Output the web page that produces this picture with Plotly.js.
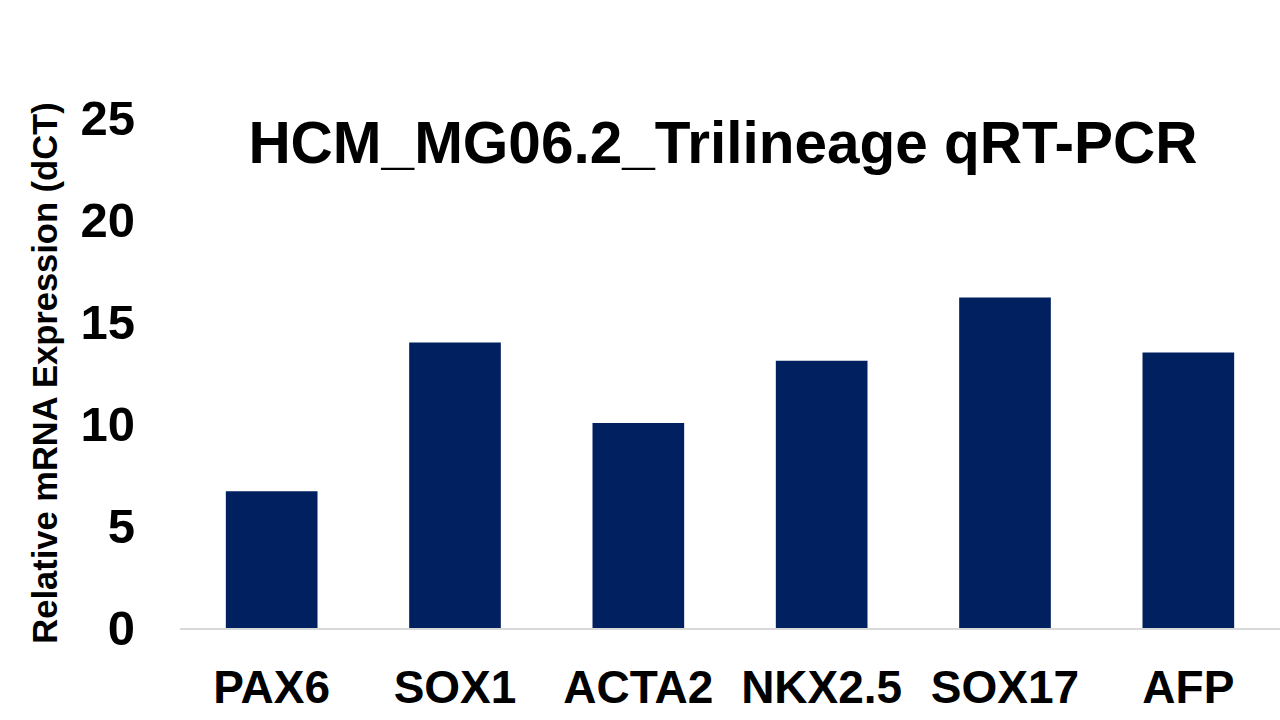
<!DOCTYPE html>
<html>
<head>
<meta charset="utf-8">
<script src="https://cdn.plot.ly/plotly-3.0.1.min.js"></script>
<style>html,body{margin:0;padding:0;background:#fff;}#chart{width:1280px;height:720px;}</style>
</head>
<body>
<div id="chart"></div>
<script>
const categories = ["PAX6", "SOX1", "ACTA2", "NKX2.5", "SOX17", "AFP"];
const expression = [6.7, 14.0, 10.05, 13.1, 16.2, 13.5];
const yTickValues = [0, 5, 10, 15, 20, 25];

const FONT = "Liberation Sans, Arial, sans-serif";

const trace = {
  type: "bar",
  x: categories,
  y: expression,
  marker: { color: "#002060" },
  hoverinfo: "x+y"
};

const layout = {
  width: 1280,
  height: 720,
  paper_bgcolor: "#ffffff",
  plot_bgcolor: "#ffffff",
  margin: { l: 180, r: 0, t: 118, b: 92 },
  bargap: 0.5,
  showlegend: false,
  font: { family: FONT, color: "#000000" },
  title: {
    text: "<b>HCM_MG06.2_Trilineage qRT-PCR</b>",
    font: { family: FONT, size: 58.5, color: "#000000" },
    x: 723 / 1280,
    xref: "container",
    xanchor: "center",
    y: 1 - 143 / 720,
    yref: "container",
    yanchor: "middle"
  },
  xaxis: {
    type: "category",
    showline: true,
    linecolor: "#d9d9d9",
    linewidth: 1.5,
    showgrid: false,
    zeroline: false,
    ticks: "",
    ticklabelstandoff: 18,
    tickfont: { family: FONT, size: 46, color: "#000000", weight: "bold" }
  },
  yaxis: {
    range: [0, 25],
    tickvals: yTickValues,
    ticktext: yTickValues.map(String),
    showline: false,
    showgrid: false,
    zeroline: false,
    ticks: "",
    ticklabelstandoff: 44,
    tickfont: { family: FONT, size: 49, color: "#000000", weight: "bold" },
    title: {
      text: "<b>Relative mRNA Expression (dCT)</b>",
      font: { family: FONT, size: 34.5, color: "#000000" },
      standoff: 12
    }
  }
};

Plotly.newPlot("chart", [trace], layout, { displayModeBar: false, staticPlot: true });
</script>
</body>
</html>
